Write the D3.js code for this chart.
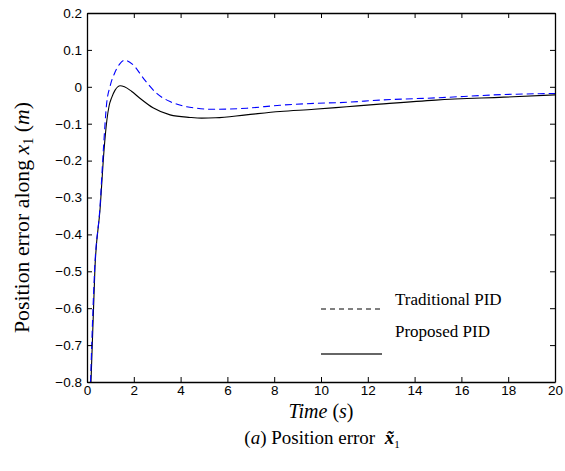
<!doctype html>
<html>
<head>
<meta charset="UTF-8">
<title>Position error</title>
<script src="https://d3js.org/d3.v7.min.js"></script>
<style>
  body { margin: 0; background: #fff; }
  .serif { font-family: "Liberation Serif", "Times New Roman", serif; fill: #000; }
</style>
</head>
<body>
<svg width="565" height="471"></svg>
<script>
// time (s) and error (m)
var timeProposed = [0.17, 0.34, 0.56, 0.73, 0.85, 0.95, 1.05, 1.2, 1.42, 1.6, 1.9, 2.26, 2.82, 3.55, 4.4, 4.9, 5.5, 6.8, 8.25, 9.7, 11.1, 12.5, 14.9, 17.8, 20];
var errProposed = [-0.8, -0.49, -0.33, -0.17, -0.09, -0.05, -0.03, -0.009, 0.003, 0.0, -0.012, -0.031, -0.057, -0.076, -0.083, -0.085, -0.084, -0.076, -0.067, -0.061, -0.054, -0.047, -0.036, -0.028, -0.022];

var timeTraditional = [0.15, 0.33, 0.55, 0.70, 0.84, 0.98, 1.2, 1.41, 1.62, 1.98, 2.41, 2.98, 3.55, 4.26, 4.69, 5.4, 6.83, 8.25, 9.7, 11.1, 12.5, 14.9, 17.8, 20];
var errTraditional = [-0.8, -0.49, -0.33, -0.17, -0.045, 0.0, 0.04, 0.063, 0.072, 0.059, 0.023, -0.018, -0.040, -0.054, -0.058, -0.061, -0.058, -0.050, -0.045, -0.042, -0.036, -0.030, -0.021, -0.018];

var xTicks = [0, 2, 4, 6, 8, 10, 12, 14, 16, 18, 20];
var yTicks = [0.2, 0.1, 0, -0.1, -0.2, -0.3, -0.4, -0.5, -0.6, -0.7, -0.8];
var legendNames = ["Traditional PID", "Proposed PID"];

var svg = d3.select("svg");
var pLeft = 87, pRight = 555, pTop = 13, pBottom = 382;

var x = d3.scaleLinear().domain([0, 20]).range([pLeft, pRight]);
var y = d3.scaleLinear().domain([-0.8, 0.2]).range([pBottom, pTop]);

svg.append("rect").attr("width", 565).attr("height", 471).attr("fill", "#fff");

svg.append("clipPath").attr("id", "plot")
  .append("rect").attr("x", pLeft).attr("y", pTop).attr("width", pRight - pLeft).attr("height", pBottom - pTop);

function zip(t, v) {
  return t.map(function (d, i) { return [d, v[i]]; });
}

var line = d3.line()
  .x(function (d) { return x(d[0]); })
  .y(function (d) { return y(d[1]); })
  .curve(d3.curveMonotoneX);

svg.append("path")
  .attr("clip-path", "url(#plot)")
  .attr("d", line(zip(timeProposed, errProposed)))
  .attr("fill", "none").attr("stroke", "#000").attr("stroke-width", 1.1);

svg.append("path")
  .attr("clip-path", "url(#plot)")
  .attr("d", line(zip(timeTraditional, errTraditional)))
  .attr("fill", "none").attr("stroke", "#0000ff").attr("stroke-width", 1.1)
  .attr("stroke-dasharray", "7,4");

// axes, ticks pointing inward
var fmt = function (d) { return d === 0 ? "0" : d3.format(".1f")(d); };

svg.append("g").attr("transform", "translate(0," + pBottom + ")")
  .call(d3.axisBottom(x).tickValues(xTicks).tickSizeInner(-5).tickSizeOuter(0).tickPadding(3).tickFormat(d3.format("d")));
svg.append("g").attr("transform", "translate(0," + pTop + ")")
  .call(d3.axisTop(x).tickValues(xTicks).tickSizeInner(-5).tickSizeOuter(0).tickFormat(""));
svg.append("g").attr("transform", "translate(" + pLeft + ",0)")
  .call(d3.axisLeft(y).tickValues(yTicks).tickSizeInner(-5).tickSizeOuter(0).tickPadding(5).tickFormat(fmt));
svg.append("g").attr("transform", "translate(" + pRight + ",0)")
  .call(d3.axisRight(y).tickValues(yTicks).tickSizeInner(-5).tickSizeOuter(0).tickFormat(""));

svg.selectAll(".domain").attr("stroke", "#000").attr("stroke-width", 1.3);
svg.selectAll(".tick line").attr("stroke", "#000");
svg.selectAll(".tick text")
  .attr("font-family", "'Liberation Sans', Arial, sans-serif")
  .attr("font-size", 13.5)
  .attr("fill", "#000");

// legend
var legend = svg.append("g");
legend.append("line").attr("x1", 321).attr("x2", 382).attr("y1", 309).attr("y2", 309)
  .attr("stroke", "#000").attr("stroke-width", 1).attr("stroke-dasharray", "5,4");
legend.append("line").attr("x1", 321).attr("x2", 382).attr("y1", 354).attr("y2", 354)
  .attr("stroke", "#333").attr("stroke-width", 1.5);
legend.selectAll("text.leg").data(legendNames).enter().append("text")
  .attr("class", "serif leg")
  .attr("x", 395)
  .attr("y", function (d, i) { return 305 + 32 * i; })
  .attr("font-size", 17)
  .text(function (d) { return d; });

// x title
var xt = svg.append("text").attr("class", "serif").attr("x", (pLeft + pRight) / 2).attr("y", 418)
  .attr("text-anchor", "middle").attr("font-size", 20);
xt.append("tspan").attr("font-style", "italic").text("Time");
xt.append("tspan").text(" (");
xt.append("tspan").attr("font-style", "italic").text("s");
xt.append("tspan").text(")");

// y title, written upward from its start
var yt = svg.append("text").attr("class", "serif")
  .attr("transform", "translate(29,333) rotate(-90)")
  .attr("font-size", 21.8);
yt.append("tspan").text("Position error along ");
yt.append("tspan").attr("font-style", "italic").text("x");
yt.append("tspan").attr("font-size", 14).attr("dy", 4).text("1");
yt.append("tspan").attr("dy", -4).text(" (");
yt.append("tspan").attr("font-style", "italic").text("m");
yt.append("tspan").text(")");

// caption
var cap = svg.append("text").attr("class", "serif").attr("x", 322).attr("y", 444)
  .attr("text-anchor", "middle").attr("font-size", 19);
cap.append("tspan").text("(");
cap.append("tspan").attr("font-style", "italic").text("a");
cap.append("tspan").text(") Position error \u00a0");
cap.append("tspan").attr("font-style", "italic").attr("font-weight", "bold").text("x\u0303");
cap.append("tspan").attr("font-size", 11).attr("dy", 4).text("1");
</script>
</body>
</html>
